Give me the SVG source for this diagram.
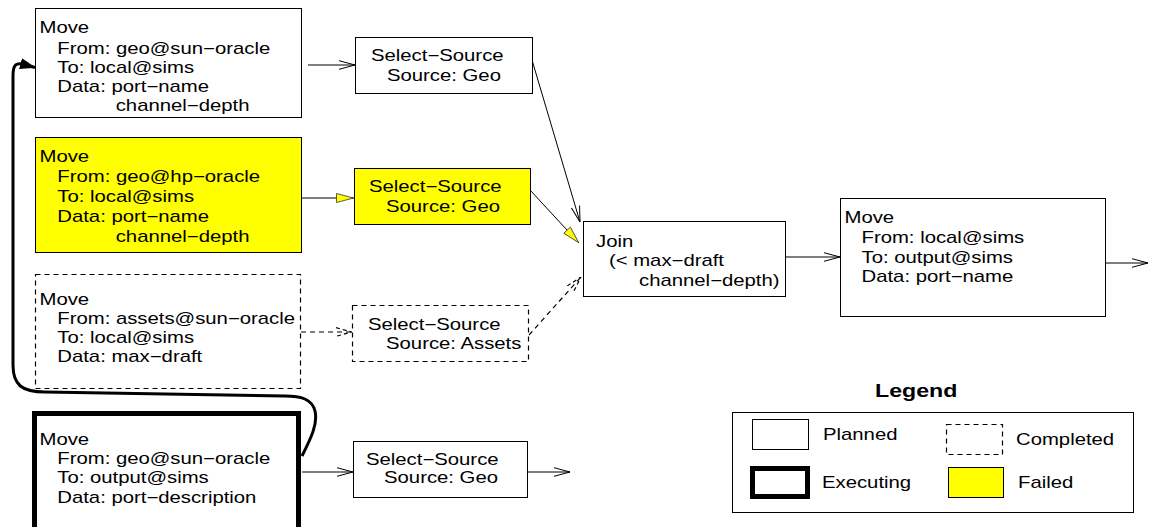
<svg xmlns="http://www.w3.org/2000/svg" width="1151" height="527" viewBox="0 0 1151 527">
<style>
text{font-family:"Liberation Sans",Arial,sans-serif;font-size:16px;fill:#000}
.b{fill:#fff;stroke:#000;stroke-width:1}
.y{fill:#ffff00;stroke:#000;stroke-width:1}
.d{fill:#fff;stroke:#000;stroke-width:1.2;stroke-dasharray:5,4}
.x{fill:#fff;stroke:#000;stroke-width:5}
.c{fill:none;stroke:#000;stroke-width:1}
.cd{fill:none;stroke:#000;stroke-width:1.2;stroke-dasharray:5,4}
.lg{font-weight:bold;font-size:19px}
</style>
<defs>
<marker id="open" viewBox="0 0 16 10" refX="16" refY="5" markerWidth="16" markerHeight="10" markerUnits="userSpaceOnUse" orient="auto"><path d="M0,0.7 L16,5 L0,9.3" fill="none" stroke="#000" stroke-width="1"/></marker>
<marker id="openD" viewBox="0 0 16 10" refX="16" refY="5" markerWidth="16" markerHeight="10" markerUnits="userSpaceOnUse" orient="auto"><path d="M0,0.7 L16,5 L0,9.3" fill="none" stroke="#000" stroke-width="1.2" stroke-dasharray="4,3"/></marker>
<marker id="yel" viewBox="0 0 18 10" refX="18" refY="5" markerWidth="18" markerHeight="10" markerUnits="userSpaceOnUse" orient="auto"><path d="M0.5,0.5 L17.5,5 L0.5,9.5 Z" fill="#ffff00" stroke="#333" stroke-width="0.8"/></marker>
<marker id="solid" viewBox="0 0 16 12" refX="15" refY="6" markerWidth="16" markerHeight="12" markerUnits="userSpaceOnUse" orient="auto"><path d="M0,0.5 L16,6 L0,11.5 Z" fill="#000"/></marker>
</defs>
<g id="connectors">
<path class="c" d="M308,65 L355,65" marker-end="url(#open)"/>
<path class="c" d="M302,198 L354,198" marker-end="url(#yel)"/>
<path class="cd" d="M301,332 L352,332" marker-end="url(#openD)"/>
<path class="c" d="M302,472 L353,472" marker-end="url(#open)"/>
<path class="c" d="M532,60 L580,222" marker-end="url(#open)"/>
<path class="c" d="M530,190 L579,243" marker-end="url(#yel)"/>
<path class="cd" d="M529,335 L581,277" marker-end="url(#openD)"/>
<path class="c" d="M785,257 L840,257" marker-end="url(#open)"/>
<path class="c" d="M1105,263 L1148,263" marker-end="url(#open)"/>
<path class="c" d="M527,472 L570,472" marker-end="url(#open)"/>
<path d="M302,456 C311,438 318,424 315,411 C312,399 301,396 285,396 L45,392 C22,392 13,385 13,365 L13,76 C13,66 15,63 22,64 L35,67.5" fill="none" stroke="#000" stroke-width="3" marker-end="url(#solid)"/>
</g>
<g id="move1">
<rect class="b" x="35.5" y="8.5" width="266" height="109"/>
<g transform="translate(39.5,0) scale(1.27,1)">
<text x="0" y="33">Move</text>
<text x="14" y="54">From: geo@sun−oracle</text>
<text x="14" y="73">To: local@sims</text>
<text x="14" y="92">Data: port−name</text>
<text x="60" y="111">channel−depth</text>
</g>
</g>
<g id="move2">
<rect class="y" x="35.5" y="137.5" width="266" height="115"/>
<g transform="translate(39.5,0) scale(1.27,1)">
<text x="0" y="162">Move</text>
<text x="14" y="182">From: geo@hp−oracle</text>
<text x="14" y="202">To: local@sims</text>
<text x="14" y="222">Data: port−name</text>
<text x="60" y="242">channel−depth</text>
</g>
</g>
<g id="move3">
<rect class="d" x="35.5" y="274.5" width="265" height="114"/>
<g transform="translate(39.5,0) scale(1.27,1)">
<text x="0" y="305">Move</text>
<text x="14" y="324">From: assets@sun−oracle</text>
<text x="14" y="343">To: local@sims</text>
<text x="14" y="362">Data: max−draft</text>
</g>
</g>
<g id="move4">
<rect class="x" x="34.5" y="413.5" width="264" height="122"/>
<g transform="translate(39.5,0) scale(1.27,1)">
<text x="0" y="445">Move</text>
<text x="14" y="464">From: geo@sun−oracle</text>
<text x="14" y="483">To: output@sims</text>
<text x="14" y="503">Data: port−description</text>
</g>
</g>
<g id="select1">
<rect class="b" x="355.5" y="37.5" width="177" height="56"/>
<g transform="translate(371,0) scale(1.27,1)">
<text x="0" y="61">Select−Source</text>
<text x="12.6" y="81">Source: Geo</text>
</g>
</g>
<g id="select2">
<rect class="y" x="354.5" y="168.5" width="176" height="56"/>
<g transform="translate(369,0) scale(1.27,1)">
<text x="0" y="192">Select−Source</text>
<text x="13.4" y="212">Source: Geo</text>
</g>
</g>
<g id="select3">
<rect class="d" x="352.5" y="305.5" width="176" height="56"/>
<g transform="translate(368,0) scale(1.27,1)">
<text x="0" y="330">Select−Source</text>
<text x="14.2" y="349">Source: Assets</text>
</g>
</g>
<g id="select4">
<rect class="b" x="353.5" y="441.5" width="174" height="56"/>
<g transform="translate(366,0) scale(1.27,1)">
<text x="0" y="465">Select−Source</text>
<text x="14.2" y="483">Source: Geo</text>
</g>
</g>
<g id="join">
<rect class="b" x="583.5" y="221.5" width="202" height="75"/>
<g transform="translate(596,0) scale(1.27,1)">
<text x="0" y="247">Join</text>
<text x="10.2" y="266">(&lt; max−draft</text>
<text x="33.9" y="286">channel−depth)</text>
</g>
</g>
<g id="move5">
<rect class="b" x="840.5" y="198.5" width="265" height="118"/>
<g transform="translate(844.5,0) scale(1.27,1)">
<text x="0" y="223">Move</text>
<text x="13.4" y="243">From: local@sims</text>
<text x="13.4" y="263">To: output@sims</text>
<text x="13.4" y="282">Data: port−name</text>
</g>
</g>
<g id="legend">
<g transform="translate(875,0) scale(1.22,1)"><text class="lg" x="0" y="397">Legend</text></g>
<rect class="b" x="732.5" y="412.5" width="401" height="100"/>
<rect class="b" x="752.5" y="419.5" width="56" height="30"/>
<rect class="d" x="946.5" y="424.5" width="56" height="30"/>
<rect class="x" x="752.5" y="468.5" width="55" height="28"/>
<rect class="y" x="948.5" y="467.5" width="55" height="30"/>
<g transform="translate(823,0) scale(1.27,1)"><text x="0" y="440">Planned</text></g>
<g transform="translate(1016,0) scale(1.27,1)"><text x="0" y="445">Completed</text></g>
<g transform="translate(822,0) scale(1.27,1)"><text x="0" y="488">Executing</text></g>
<g transform="translate(1018,0) scale(1.27,1)"><text x="0" y="488">Failed</text></g>
</g>
</svg>
